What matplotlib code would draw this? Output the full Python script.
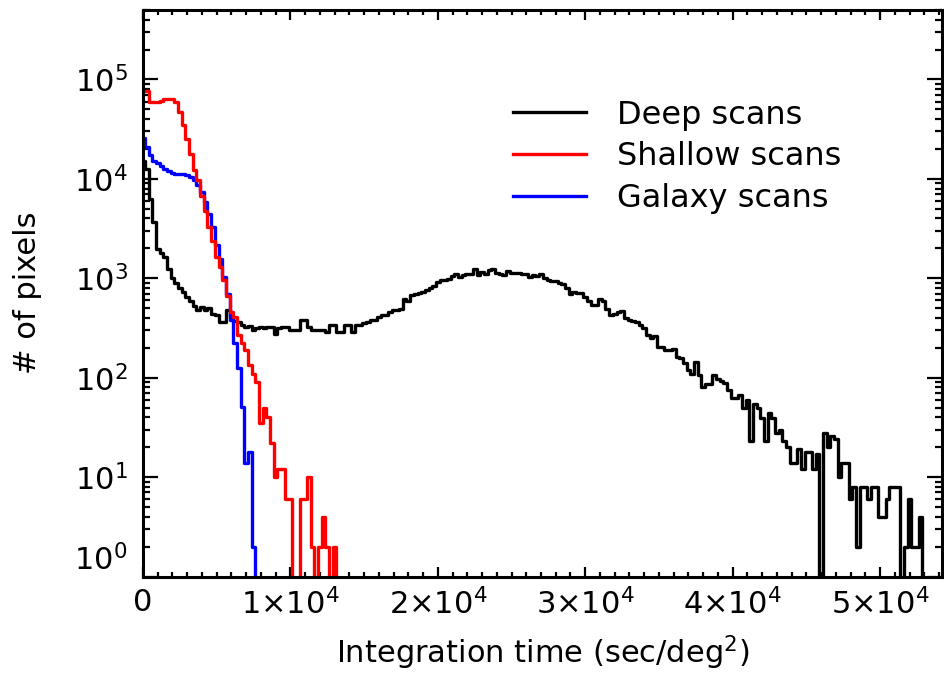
import numpy as np
import matplotlib
matplotlib.use("Agg")
import matplotlib.pyplot as plt
from matplotlib.ticker import MultipleLocator, LogLocator, NullFormatter

plt.rcParams['font.family'] = 'DejaVu Sans'
plt.rcParams['mathtext.fontset'] = 'dejavusans'

# histogram bins, sec/deg^2
bin_width = 250

deep_counts = [15000, 12700, 6300, 3700, 1950, 1800, 1650, 1250, 1000, 900,
               790, 730, 650, 590, 525, 485, 510, 477, 500, 442,
               425, 364, 364, 477, 408, 370, 360, 337, 324, 330,
               305, 318, 324, 313, 324, 324, 278, 319, 324, 324,
               305, 305, 300, 378, 378, 324, 305, 300, 300, 300,
               289, 337, 337, 289, 289, 337, 337, 289, 337, 337,
               355, 364, 378, 378, 408, 425, 425, 458, 477, 477,
               496, 625, 592, 675, 702, 710, 730, 759, 806, 831,
               918, 955, 960, 980, 1047, 1114, 1023, 1070, 1114, 1114,
               1231, 1070, 1157, 1114, 1220, 1250, 1130, 1097, 1070, 1184,
               1130, 1130, 1130, 1114, 1114, 1030, 1070, 1047, 1097, 1000,
               970, 940, 940, 900, 885, 806, 702, 728, 715, 715,
               649, 592, 535, 535, 625, 592, 496, 425, 440, 458,
               465, 394, 380, 372, 364, 337, 319, 267, 250, 262,
               204, 204, 189, 189, 196, 160, 156, 140, 119, 110,
               144, 106, 81, 87, 87, 106, 98, 93, 88, 75,
               62, 62, 67, 49, 59, 23, 54, 49, 39, 23,
               44, 39, 28, 30, 23, 20, 14, 14, 19, 12,
               18, 18, 12, 17, 0, 28, 20, 26, 24, 10,
               14, 14, 6, 8, 2, 8, 8, 6, 8, 8,
               4, 4, 6, 8, 8, 8, 0, 2, 6, 2,
               2, 4, 0]

shallow_counts = [76000, 76000, 60000, 59000, 60000, 61000, 63000, 64000, 63000, 59000,
                  47000, 35000, 25000, 18000, 12200, 9700, 6800, 4750, 3300, 2350,
                  1650, 1300, 970, 660, 458, 408, 267, 221, 189, 134,
                  110, 91, 35, 49, 40, 22, 10, 12, 12, 6,
                  6, 0, 0, 6, 6, 10, 2, 0, 2, 4,
                  2, 0, 2, 0]

galaxy_counts = [26000, 21000, 17500, 15300, 14500, 13500, 12600, 12000, 11400, 11300,
                 11300, 11200, 11000, 10400, 9700, 8600, 7400, 5850, 4470, 3280,
                 2150, 1580, 1030, 700, 380, 225, 124, 51, 14, 18,
                 2, 0]

labels = ['Deep scans', 'Shallow scans', 'Galaxy scans']
colors = ['black', '#ff0000', '#0000ff']

x_ticks = [0, 1e4, 2e4, 3e4, 4e4, 5e4]
x_ticklabels = ['0', r'$1{\times}10^{4}$', r'$2{\times}10^{4}$', r'$3{\times}10^{4}$',
                r'$4{\times}10^{4}$', r'$5{\times}10^{4}$']
y_ticks = [1, 10, 100, 1e3, 1e4, 1e5]
y_ticklabels = [r'$10^{%d}$' % i for i in range(6)]

fig = plt.figure(figsize=(9.45, 6.8), dpi=100)
ax = fig.add_axes([0.1513, 0.1522, 0.8455, 0.8331])
ax.set_yscale('log')

lines = {}
for name, counts, col in [(labels[0], deep_counts, colors[0]),
                          (labels[2], galaxy_counts, colors[2]),
                          (labels[1], shallow_counts, colors[1])]:
    xs = bin_width * np.arange(len(counts))
    ln, = ax.step(xs, counts, where='mid', color=col, lw=2.4, label=name)
    lines[name] = ln

ax.set_xlim(0, 54200)
ax.set_ylim(1, 5e5)

ax.set_xticks(x_ticks, x_ticklabels)
ax.xaxis.set_minor_locator(MultipleLocator(1000))
ax.set_yticks(y_ticks, y_ticklabels)
ax.yaxis.set_minor_locator(LogLocator(base=10, subs=np.arange(2, 10)))
ax.yaxis.set_minor_formatter(NullFormatter())

ax.tick_params(which='both', direction='in', top=True, right=True, width=1.6,
               labelsize=22)
ax.tick_params(axis='x', which='major', length=7.5, pad=8)
ax.tick_params(axis='x', which='minor', length=3.8)
ax.tick_params(axis='y', which='major', length=10.5, pad=11)
ax.tick_params(axis='y', which='minor', length=5.2)
for s in ax.spines.values():
    s.set_linewidth(2.2)

ax.get_yticklabels()[0].set_va('bottom')

ax.set_xlabel(r'Integration time (sec/deg$^{2}$)', fontsize=22)
ax.set_ylabel('# of pixels', fontsize=22)
ax.xaxis.set_label_coords(0.5, -0.101)
ax.yaxis.set_label_coords(-0.126, 0.5)

ax.legend([lines[n] for n in labels], labels, loc='upper left',
          bbox_to_anchor=(0.463, 0.842), frameon=False, fontsize=23,
          handlelength=2.3, handletextpad=0.97, labelspacing=0.34,
          borderpad=0, borderaxespad=0)

fig.savefig('out.png', dpi=100)
